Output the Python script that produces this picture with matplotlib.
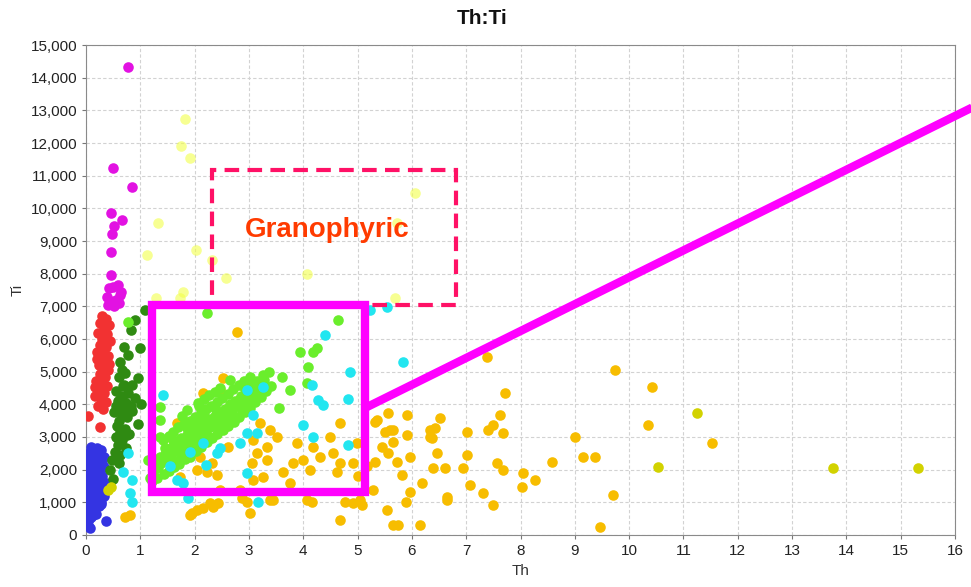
import matplotlib
matplotlib.use("Agg")
import matplotlib.pyplot as plt
from matplotlib.patches import Rectangle

plt.rcParams["font.family"] = ["Liberation Sans", "DejaVu Sans"]

# Th (ppm) / Ti (ppm) by group
magenta_x = [0.77, 0.50, 0.85, 0.46, 0.67, 0.52, 0.48, 0.46, 0.46, 0.42, 0.50, 0.58,
             0.62, 0.38, 0.45, 0.55, 0.65, 0.40, 0.52, 0.60]
magenta_y = [14320, 11230, 10650, 9850, 9640, 9450, 9200, 8660, 7950, 7550, 7600, 7650,
             7350, 7300, 7150, 7200, 7450, 7050, 7000, 7100]

red_x = [0.30, 0.37, 0.26, 0.42, 0.33, 0.22, 0.39, 0.29, 0.44, 0.25, 0.36, 0.20, 0.32,
         0.41, 0.27, 0.37, 0.23, 0.31, 0.40, 0.26, 0.35, 0.19, 0.30, 0.38, 0.24, 0.33,
         0.17, 0.28, 0.36, 0.22, 0.31, 0.04, 0.26, 0.16, 0.43, 0.34, 0.21]
red_y = [6700, 6620, 6480, 6430, 6310, 6190, 6140, 6010, 5930, 5820, 5760, 5590, 5540,
         5480, 5360, 5290, 5210, 5090, 5040, 4920, 4840, 4710, 4640, 4560, 4440, 4360,
         4240, 4160, 4060, 3960, 3860, 3640, 3300, 4520, 5230, 5950, 5400]

dkgreen_x = [1.08, 0.90, 0.83, 1.00, 0.77, 0.66, 0.96, 0.72, 0.60, 0.85, 0.68, 0.55,
             0.78, 0.64, 0.90, 0.58, 0.74, 0.82, 0.62, 0.70, 0.52, 0.66, 0.76, 0.60,
             0.95, 0.57, 0.71, 0.63, 0.80, 0.55, 0.67, 0.59, 0.74, 0.53, 0.63, 0.48,
             0.44, 0.60, 0.50, 0.85, 0.70, 0.56, 1.02, 0.66, 0.75, 0.62, 0.69]
dkgreen_y = [6900, 6580, 6270, 5720, 5500, 5050, 4800, 4950, 4850, 4600, 4550, 4400,
             4350, 4250, 4200, 4100, 4050, 3950, 3900, 3800, 3750, 3650, 3600, 3500,
             3400, 3350, 3250, 3150, 3100, 3000, 2900, 2750, 2650, 2550, 2450, 2300,
             2000, 2200, 1700, 3800, 4600, 3950, 4000, 4200, 3050, 5300, 5750]

blue_x = [0.10, 0.21, 0.27, 0.06, 0.14, 0.26, 0.33, 0.02, 0.12, 0.23, 0.29, 0.05, 0.15,
          0.22, 0.34, 0.03, 0.09, 0.19, 0.30, 0.07, 0.17, 0.25, 0.36, 0.02, 0.11, 0.21,
          0.32, 0.06, 0.14, 0.26, 0.33, 0.03, 0.11, 0.19, 0.27, 0.05, 0.15, 0.23, 0.02,
          0.12, 0.19, 0.05, 0.10, 0.37, 0.03, 0.08, 0.18, 0.08, 0.28, 0.17, 0.13, 0.24]
blue_y = [2700, 2660, 2610, 2520, 2440, 2560, 2390, 2310, 2270, 2330, 2200, 2090, 2160,
          2010, 2070, 1910, 1860, 1960, 1800, 1720, 1650, 1740, 1600, 1510, 1460, 1550,
          1400, 1290, 1360, 1230, 1180, 1110, 1040, 1150, 960, 890, 810, 900, 690,
          730, 640, 480, 560, 430, 300, 220, 1420, 1620, 1000, 2050, 620, 1860]

cyan_x = [0.77, 0.68, 0.85, 0.81, 0.85, 1.42, 1.68, 1.79, 1.88, 2.16, 1.92, 2.41, 2.47,
          2.96, 3.15, 3.08, 3.26, 2.96, 2.84, 2.96, 3.17, 4.40, 5.23, 5.54, 5.84, 4.86,
          4.83, 4.16, 4.27, 4.37, 4.00, 4.18, 4.83, 1.55, 2.20]
cyan_y = [2500, 1930, 1680, 1280, 1000, 4280, 1680, 1590, 1130, 2820, 2540, 2500, 2660,
          3120, 3120, 3670, 4530, 4440, 2820, 1900, 1010, 6120, 6890, 6980, 5290, 4990,
          4150, 4590, 4130, 3980, 3370, 3000, 2750, 2100, 2150]

ltgreen_x = [1.31, 1.27, 1.36, 1.44, 1.38, 1.47, 1.41, 1.53, 1.49, 1.58, 1.52,
             1.62, 1.57, 1.66, 1.61, 1.71, 1.68, 1.74, 1.69, 1.77,
             1.83, 1.79, 1.86, 1.81, 1.92, 1.88, 1.95, 1.91, 1.86,
             2.03, 1.98, 2.06, 2.01, 2.08, 2.12, 2.09, 2.15, 2.11, 2.07,
             2.22, 2.18, 2.25, 2.21, 2.17, 2.32, 2.28, 2.35, 2.31, 2.26,
             2.42, 2.38, 2.45, 2.41, 2.37, 2.52, 2.48, 2.55, 2.51, 2.46,
             2.62, 2.58, 2.65, 2.61, 2.72, 2.68, 2.75, 2.71, 2.66,
             2.82, 2.78, 2.85, 2.81, 2.92, 2.88, 2.95, 2.91,
             3.02, 2.98, 3.05, 3.01, 3.12, 3.08, 3.14, 3.22, 3.18, 3.25,
             3.32, 3.28, 3.41, 3.36, 1.75, 2.00, 2.30, 2.55, 2.14, 2.43,
             1.55, 1.64, 1.72, 1.80, 1.89, 1.97, 2.05, 2.13, 2.24, 2.34, 2.44,
             2.57, 2.67, 2.77, 2.87, 2.97, 3.10, 1.43, 1.60, 1.85, 2.19, 2.63,
             2.90, 3.20, 1.34, 1.96, 2.39, 2.84,
             0.77, 2.23, 4.64, 3.94, 4.18, 4.25, 4.09, 4.07, 1.36, 1.36, 1.36,
             1.18, 1.33, 3.60, 3.75, 3.55, 1.15, 1.22, 1.45]
ltgreen_y = [1750, 2020, 2380, 1880, 2190, 2560, 2900, 1960, 2310, 2680, 3040,
             2080, 2430, 2810, 3160, 2170, 2560, 2960, 3300, 3640,
             2320, 2700, 3060, 3410, 2400, 2790, 3160, 3500, 3840,
             2560, 2900, 3260, 3610, 3950, 2700, 3060, 3410, 3760, 4050,
             2850, 3200, 3500, 3860, 4160, 2960, 3300, 3610, 3950, 4290,
             3100, 3400, 3760, 4060, 4390, 3200, 3560, 3860, 4200, 4500,
             3350, 3660, 4010, 4310, 3460, 3800, 4110, 4460, 4740,
             3610, 3950, 4260, 4600, 3760, 4060, 4400, 4700,
             3900, 4210, 4550, 4850, 4060, 4360, 4700, 4210, 4500, 4900,
             4400, 4750, 4560, 4980, 2350, 3400, 3450, 3700, 3550, 3300,
             2500, 2260, 2750, 2520, 2980, 2700, 3080, 3240, 3020, 3480, 3580,
             3420, 3520, 3620, 3830, 4020, 4200, 2420, 2900, 3270, 3620, 3880,
             4540, 4640, 2200, 3350, 3820, 4150,
             6520, 6790, 6580, 5600, 5600, 5720, 5140, 4650, 3920, 3520, 3000,
             1740, 2080, 4850, 4450, 3900, 2300, 1650, 2650]

orange_x = [2.78, 2.52, 2.47, 2.16, 1.68, 1.55, 2.04, 2.23, 2.41, 2.32, 2.62, 3.08, 3.20,
            3.39, 3.52, 3.33, 3.15, 3.06, 3.33, 3.08, 3.26, 3.63, 3.81, 4.00, 3.76, 4.13,
            4.31, 4.55, 4.68, 4.62, 4.49, 4.68, 4.18, 3.89, 4.99, 4.92, 4.07, 4.16, 4.68,
            5.05, 4.92, 3.44, 3.02, 2.28, 2.16, 1.95, 2.04, 2.43, 2.87, 2.96, 2.47, 2.84,
            3.39, 1.73, 2.10,
            0.81, 0.72, 1.92, 2.34, 5.08, 5.54, 5.65, 5.75, 6.15, 5.90, 4.77, 7.50, 6.65,
            7.38, 7.72, 9.74, 10.42, 10.35, 5.56, 5.32, 5.91, 6.52, 6.34, 6.43, 5.51, 5.65,
            5.91, 6.34, 5.65, 5.45, 5.56, 5.73, 5.32, 5.97, 6.46, 5.82, 6.39, 6.61, 6.94,
            7.02, 7.02, 7.40, 7.50, 7.62, 7.68, 7.57, 7.68, 8.05, 8.27, 8.03, 7.07, 7.31,
            6.65, 6.19, 5.97, 5.29, 8.58, 9.00, 9.15, 9.37, 9.71, 9.47, 11.53, 5.36, 5.60,
            6.37, 5.00, 5.18]
orange_y = [6210, 4800, 4440, 4350, 3430, 3000, 1990, 1930, 1840, 2200, 2690, 2910, 3430,
            3210, 3000, 2690, 2510, 2200, 2300, 1680, 1780, 1930, 2200, 2300, 1590, 1990,
            2390, 2510, 2200, 1930, 3000, 3430, 2690, 2820, 2820, 2200, 1070, 1010, 460,
            1070, 980, 1070, 670, 980, 830, 670, 770, 980, 1130, 1010, 1380, 1380,
            1070, 1780, 2390,
            610, 550, 610, 860, 920, 770, 310, 310, 310, 1010, 1010, 920, 1070,
            5450, 4340, 5050, 4530, 3370, 3730, 3460, 3670, 3580, 3210, 3270, 3150, 3210,
            3060, 3000, 2850, 2690, 2510, 2230, 2230, 2390, 2510, 1840, 2050, 2050, 2050,
            3150, 2450, 3210, 3370, 3670, 3120, 2200, 1990, 1900, 1680, 1470, 1530, 1290,
            1160, 1590, 1320, 1380, 2230, 3000, 2390, 2390, 1220, 250, 2820, 3520, 3210,
            2970, 1800, 2100]

olive_x = [0.40, 0.46, 10.54, 11.25, 13.76, 15.32]
olive_y = [1380, 1470, 2080, 3730, 2050, 2050]

pale_x = [1.82, 1.75, 1.92, 1.33, 1.12, 2.03, 2.32, 2.58, 1.79, 1.29, 1.73, 6.06, 4.07,
          5.73, 5.69]
pale_y = [12730, 11900, 11530, 9550, 8570, 8720, 8420, 7860, 7440, 7250, 7250, 10470,
          7990, 9550, 7250]

fig = plt.figure(figsize=(9.71, 5.87), dpi=100)
ax = fig.add_axes([0.0886, 0.0886, 0.8949, 0.8347])

dot = 58
ax.scatter(blue_x, blue_y, s=dot, c="#3434E2", linewidths=0, zorder=3)
ax.scatter(red_x, red_y, s=dot, c="#F23232", linewidths=0, zorder=3)
ax.scatter(magenta_x, magenta_y, s=dot, c="#E212E2", linewidths=0, zorder=3)
ax.scatter(dkgreen_x, dkgreen_y, s=dot, c="#2F8A12", linewidths=0, zorder=3)
ax.scatter(pale_x, pale_y, s=dot, c="#F2FF4A", alpha=0.6, linewidths=0, zorder=3)
ax.scatter(orange_x, orange_y, s=dot, c="#F7BD00", linewidths=0, zorder=3)
ax.scatter(olive_x, olive_y, s=dot, c="#D2D200", linewidths=0, zorder=3)
ax.scatter(ltgreen_x, ltgreen_y, s=dot, c="#6AEE2C", linewidths=0, zorder=3)
ax.scatter(cyan_x, cyan_y, s=dot, c="#22E6F0", linewidths=0, zorder=3)

ax.set_xlim(0, 16)
ax.set_ylim(0, 15000)
ax.set_xticks(range(0, 17))
ax.set_yticks(range(0, 15001, 1000))
ax.set_yticklabels([f"{v:,}" for v in range(0, 15001, 1000)])
ax.tick_params(labelsize=11, colors="#777777", labelcolor="#222222", length=3)
ax.grid(True, color="#D2D2D2", linestyle=(0, (3, 2)), linewidth=0.8, zorder=0)
for sp in ax.spines.values():
    sp.set_color("#8A8A8A")

ax.set_xlabel("Th", fontsize=11, color="#333333", labelpad=4)
ax.set_ylabel("Ti", fontsize=11, color="#333333", labelpad=4)
fig.text(0.497, 0.968, "Th:Ti", ha="center", va="center", fontsize=15,
         fontweight="bold", color="#111111")

# granophyric field and the zoomed box
ax.add_patch(Rectangle((2.32, 7040), 6.81 - 2.32, 11170 - 7040, fill=False,
                       edgecolor="#FF1166", linewidth=3, linestyle=(0, (3.5, 2)),
                       zorder=5))
ax.text(4.44, 9330, "Granophyric", ha="center", va="center", fontsize=20,
        fontweight="bold", color="#FF3B00", zorder=6)
ax.add_patch(Rectangle((1.22, 1320), 5.14 - 1.22, 7040 - 1320, fill=False,
                       edgecolor="#FF00FF", linewidth=6, zorder=5))
ax.plot([5.14, 16.6], [3890, 13320], color="#FF00FF", linewidth=6,
        solid_capstyle="butt", clip_on=False, zorder=5)

fig.savefig("out.png", dpi=100)
